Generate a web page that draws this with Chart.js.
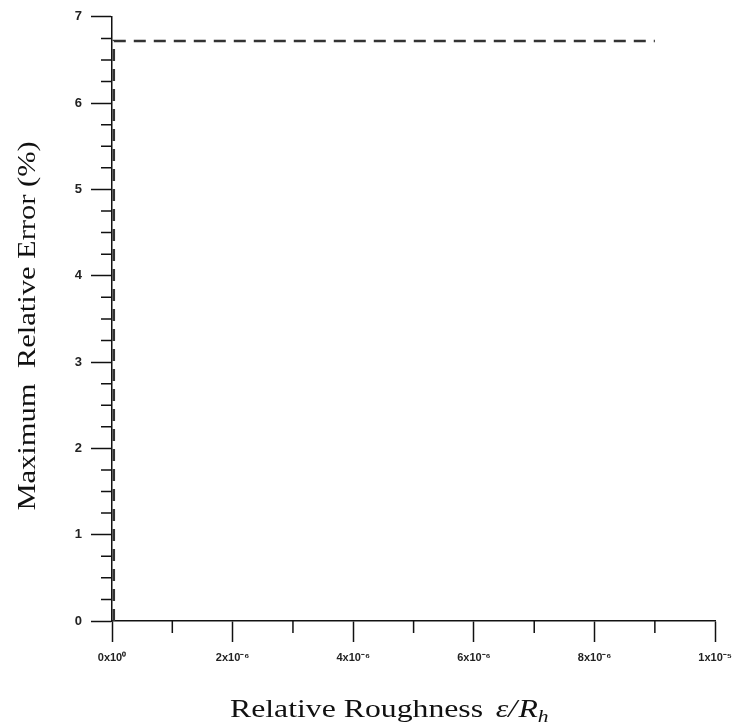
<!DOCTYPE html>
<html lang="en">
<head>
    <meta charset="UTF-8">
    <title>Maximum Relative Error vs Relative Roughness</title>
    <script src="https://cdn.jsdelivr.net/npm/chart.js"></script>
    <style>
        html, body { margin: 0; padding: 0; background: #fff; }
        #wrap { width: 741px; height: 728px; }
    </style>
</head>
<body>
<div id="wrap"><canvas id="errChart" width="741" height="728"></canvas></div>
<script>
    // data
    const roughness = [3e-8, 3e-8, 9e-6];
    const maxRelError = [0, 6.72, 6.72];

    const xTickValues = [0, 2e-6, 4e-6, 6e-6, 8e-6, 1e-5];
    const xTickLabels = ['0x10\u2070', '2x10\u207B\u2076', '4x10\u207B\u2076', '6x10\u207B\u2076', '8x10\u207B\u2076', '1x10\u207B\u2075'];
    const yTickLabels = ['0', '1', '2', '3', '4', '5', '6', '7'];

    const yTitle = 'Maximum  Relative Error (%)';
    const xTitle = 'Relative Roughness';

    const AXIS = '#111';

    // short minor ticks between the major ones
    const minorTicks = {
        id: 'minorTicks',
        afterDraw(chart) {
            const {ctx, chartArea, scales} = chart;
            ctx.save();
            ctx.strokeStyle = AXIS;
            ctx.lineWidth = 1.5;
            ctx.beginPath();
            for (let v = 0.25; v < 7; v += 0.25) {
                if (Math.abs(v - Math.round(v)) < 1e-9) continue;
                const py = scales.y.getPixelForValue(v);
                ctx.moveTo(chartArea.left - 11, py);
                ctx.lineTo(chartArea.left, py);
            }
            for (let i = 0; i < xTickValues.length - 1; i++) {
                const mid = (xTickValues[i] + xTickValues[i + 1]) / 2;
                const px = scales.x.getPixelForValue(mid);
                ctx.moveTo(px, chartArea.bottom);
                ctx.lineTo(px, chartArea.bottom + 12);
            }
            ctx.stroke();
            ctx.restore();
        }
    };

    // serif axis titles, slightly stretched like the original
    const axisTitles = {
        id: 'axisTitles',
        afterDraw(chart) {
            const {ctx, chartArea} = chart;
            ctx.save();
            ctx.fillStyle = '#111';
            ctx.textBaseline = 'alphabetic';
            ctx.translate(chartArea.left + 118, 717);
            ctx.scale(1.27, 1);
            ctx.font = '25px "Liberation Serif"';
            ctx.fillText(xTitle, 0, 0);
            let w = ctx.measureText(xTitle).width + 10;
            ctx.font = 'italic 25px "Liberation Serif"';
            ctx.fillText('\u03B5/', w, 0);
            w += ctx.measureText('\u03B5/').width + 1;
            ctx.fillText('R', w, 0);
            w += ctx.measureText('R').width;
            ctx.font = 'italic 17px "Liberation Serif"';
            ctx.fillText('h', w, 5);
            ctx.restore();

            ctx.save();
            ctx.fillStyle = '#111';
            ctx.translate(28, (chartArea.top + chartArea.bottom) / 2 + 7);
            ctx.rotate(-Math.PI / 2);
            ctx.scale(1.22, 1);
            ctx.font = '25px "Liberation Serif"';
            ctx.textAlign = 'center';
            ctx.textBaseline = 'middle';
            ctx.fillText(yTitle, 0, 0);
            ctx.restore();
        }
    };

    new Chart(document.getElementById('errChart'), {
        type: 'scatter',
        data: {
            datasets: [{
                data: roughness.map((x, i) => ({x: x, y: maxRelError[i]})),
                showLine: true,
                borderColor: '#333',
                borderWidth: 2.5,
                borderDash: [12, 8],
                pointRadius: 0,
                fill: false,
                clip: false
            }]
        },
        options: {
            responsive: false,
            animation: false,
            layout: {padding: {top: 16, right: 22, left: 0, bottom: 0}},
            plugins: {legend: {display: false}, tooltip: {enabled: false}},
            scales: {
                x: {
                    type: 'linear',
                    min: 0,
                    max: 1e-5,
                    afterFit: s => { s.height = 107; },
                    afterBuildTicks: s => { s.ticks = xTickValues.map(v => ({value: v})); },
                    ticks: {
                        autoSkip: false,
                        maxRotation: 0,
                        padding: 9,
                        color: '#222',
                        font: {family: 'Liberation Sans', size: 11, weight: 'bold'},
                        callback: (v, i) => xTickLabels[i]
                    },
                    grid: {drawOnChartArea: false, tickLength: 21, tickWidth: 1.5, tickColor: AXIS},
                    border: {color: AXIS, width: 1.5}
                },
                y: {
                    min: 0,
                    max: 7,
                    afterFit: s => { s.width = 112; },
                    ticks: {
                        stepSize: 1,
                        autoSkip: false,
                        padding: 9,
                        color: '#222',
                        font: {family: 'Liberation Sans', size: 13, weight: 'bold'},
                        callback: (v, i) => yTickLabels[i]
                    },
                    grid: {drawOnChartArea: false, tickLength: 21, tickWidth: 1.5, tickColor: AXIS},
                    border: {color: AXIS, width: 1.5}
                }
            }
        },
        plugins: [minorTicks, axisTitles]
    });
</script>
</body>
</html>
